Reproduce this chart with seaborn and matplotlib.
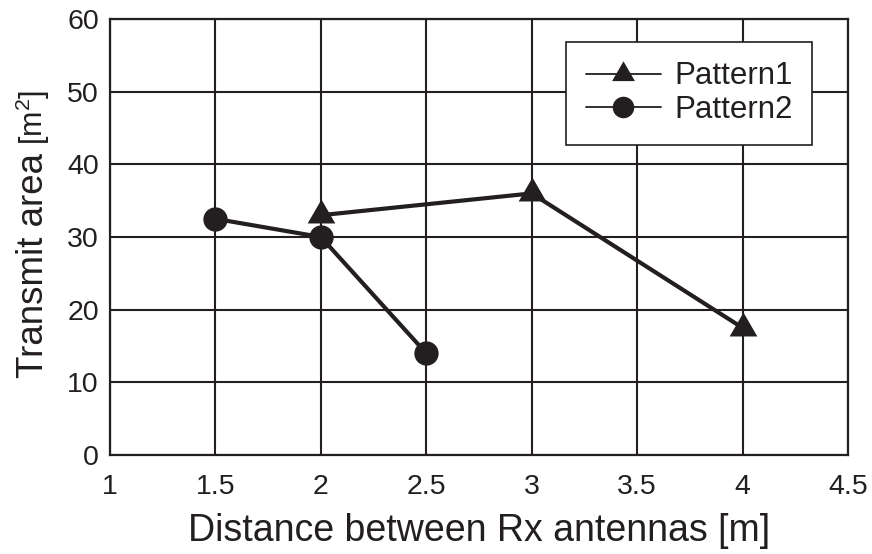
import matplotlib
matplotlib.use("Agg")
import matplotlib.pyplot as plt
from matplotlib.lines import Line2D
import seaborn as sns
import pandas as pd

# Measured transmit area for each receiver-antenna spacing
pattern1_distance = [2.0, 3.0, 4.0]
pattern1_area = [33.0, 36.0, 17.5]
pattern2_distance = [1.5, 2.0, 2.5]
pattern2_area = [32.5, 30.0, 14.0]
series_names = ["Pattern1", "Pattern2"]
x_ticks = [1, 1.5, 2, 2.5, 3, 3.5, 4, 4.5]
x_tick_labels = ["1", "1.5", "2", "2.5", "3", "3.5", "4", "4.5"]
y_ticks = [0, 10, 20, 30, 40, 50, 60]

sns.set_style("white")
plt.rcParams["font.family"] = ["Liberation Sans", "DejaVu Sans"]
plt.rcParams["mathtext.fontset"] = "custom"
plt.rcParams["mathtext.rm"] = "Liberation Sans"

INK = "#231f20"
# equilateral triangle, centred on its centroid
TRIANGLE = [(0, 1), (-0.866, -0.5), (0.866, -0.5)]

df = pd.concat([
    pd.DataFrame({"distance": pattern1_distance, "area": pattern1_area,
                  "series": series_names[0]}),
    pd.DataFrame({"distance": pattern2_distance, "area": pattern2_area,
                  "series": series_names[1]}),
])

fig = plt.figure(figsize=(8.72, 5.54), dpi=100)
ax = fig.add_axes([110 / 872, 1 - 455 / 554, 738 / 872, 436 / 554])

markers = {series_names[0]: (TRIANGLE, 23), series_names[1]: ("o", 17.5)}
for name in series_names:
    sub = df[df["series"] == name]
    m, ms = markers[name]
    sns.lineplot(data=sub, x="distance", y="area", ax=ax, color=INK,
                 linewidth=3.0, marker=m, markersize=ms,
                 markeredgewidth=0, markerfacecolor=INK,
                 estimator=None, sort=False, zorder=3, legend=False)

ax.set_xlim(1, 4.5)
ax.set_ylim(0, 60)
ax.set_xticks(x_ticks)
ax.set_xticklabels(x_tick_labels)
ax.set_yticks(y_ticks)
ax.grid(True, color=INK, linewidth=1.5)
ax.set_axisbelow(True)
for s in ax.spines.values():
    s.set_color(INK)
    s.set_linewidth(1.6)
ax.tick_params(axis="both", length=0, labelsize=20.5, colors=INK)
ax.tick_params(axis="x", pad=14)
ax.tick_params(axis="y", pad=8)

ax.set_xlabel("Distance between Rx antennas [m]", fontsize=27, color=INK,
              labelpad=9)
ax.set_ylabel("")

# y label: main words large, unit in a smaller size
t1 = fig.text(43 / 872, 1 - 378 / 554, "Transmit area", rotation=90,
              rotation_mode="anchor", ha="left", va="baseline",
              fontsize=26.5, color=INK)
fig.canvas.draw()
bb = t1.get_window_extent(fig.canvas.get_renderer())
fig.text(43 / 872, (bb.y1 + 8) / fig.bbox.height,
         r"[m$^{\mathregular{2}}$]", rotation=90, rotation_mode="anchor",
         ha="left", va="baseline", fontsize=22, color=INK)

handles = [
    Line2D([], [], color=INK, linewidth=1.3, marker=TRIANGLE, markersize=19,
           markeredgewidth=0),
    Line2D([], [], color=INK, linewidth=1.3, marker="o", markersize=15.5,
           markeredgewidth=0),
]
leg = ax.legend(handles, series_names, loc="upper right",
                bbox_to_anchor=(0.951, 0.947), borderaxespad=0,
                fontsize=22.5, frameon=True, fancybox=False,
                handlelength=2.4, handletextpad=0.42, labelspacing=0.12,
                borderpad=0.62, labelcolor=INK)
leg.get_frame().set_edgecolor(INK)
leg.get_frame().set_linewidth(1.2)
leg.get_frame().set_alpha(1)

fig.savefig("out.png", dpi=100)
